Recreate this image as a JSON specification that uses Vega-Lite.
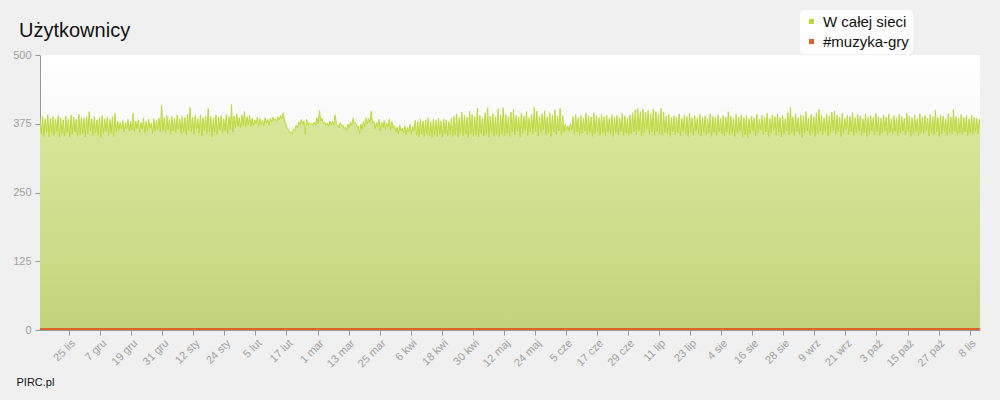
{
"$schema":"https://vega.github.io/schema/vega-lite/v6.json",
"width":940,"height":275,
"autosize":{"type":"none"},
"padding":{"left":40,"top":55,"right":20,"bottom":70},
"background":"#f0f0f0",
"title":{"text":"Użytkownicy","anchor":"start","frame":"group","dx":-21,"offset":-47,"baseline":"alphabetic","fontSize":20,"fontWeight":"normal","color":"#111","font":"Liberation Sans"},
"datasets":{
"all":[
{"t":"2012-11-13T18:00","v":386},
{"t":"2012-11-14T06:00","v":356},{"t":"2012-11-14T18:00","v":389},
{"t":"2012-11-15T06:00","v":352},{"t":"2012-11-15T18:00","v":384},
{"t":"2012-11-16T06:00","v":360},{"t":"2012-11-16T18:00","v":391},
{"t":"2012-11-17T06:00","v":351},{"t":"2012-11-17T18:00","v":385},
{"t":"2012-11-18T06:00","v":358},{"t":"2012-11-18T18:00","v":388},
{"t":"2012-11-19T06:00","v":354},{"t":"2012-11-19T18:00","v":383},
{"t":"2012-11-20T06:00","v":361},{"t":"2012-11-20T18:00","v":390},
{"t":"2012-11-21T06:00","v":350},{"t":"2012-11-21T18:00","v":386},
{"t":"2012-11-22T06:00","v":357},{"t":"2012-11-22T18:00","v":382},
{"t":"2012-11-23T06:00","v":353},{"t":"2012-11-23T18:00","v":389},
{"t":"2012-11-24T06:00","v":359},{"t":"2012-11-24T18:00","v":384},
{"t":"2012-11-25T06:00","v":351},{"t":"2012-11-25T18:00","v":391},
{"t":"2012-11-26T06:00","v":356},{"t":"2012-11-26T18:00","v":387},
{"t":"2012-11-27T06:00","v":360},{"t":"2012-11-27T18:00","v":383},
{"t":"2012-11-28T06:00","v":352},{"t":"2012-11-28T18:00","v":392},
{"t":"2012-11-29T06:00","v":355},{"t":"2012-11-29T18:00","v":386},
{"t":"2012-11-30T06:00","v":358},{"t":"2012-11-30T18:00","v":385},
{"t":"2012-12-01T06:00","v":351},{"t":"2012-12-01T18:00","v":389},
{"t":"2012-12-02T06:00","v":357},{"t":"2012-12-02T18:00","v":397},
{"t":"2012-12-03T06:00","v":362},{"t":"2012-12-03T18:00","v":384},
{"t":"2012-12-04T06:00","v":353},{"t":"2012-12-04T18:00","v":388},
{"t":"2012-12-05T06:00","v":359},{"t":"2012-12-05T18:00","v":382},
{"t":"2012-12-06T06:00","v":355},{"t":"2012-12-06T18:00","v":386},
{"t":"2012-12-07T06:00","v":350},{"t":"2012-12-07T18:00","v":390},
{"t":"2012-12-08T06:00","v":357},{"t":"2012-12-08T18:00","v":384},
{"t":"2012-12-09T06:00","v":361},{"t":"2012-12-09T18:00","v":387},
{"t":"2012-12-10T06:00","v":354},{"t":"2012-12-10T18:00","v":383},
{"t":"2012-12-11T06:00","v":358},{"t":"2012-12-11T18:00","v":388},
{"t":"2012-12-12T06:00","v":352},{"t":"2012-12-12T18:00","v":394},
{"t":"2012-12-13T06:00","v":360},{"t":"2012-12-13T18:00","v":380},
{"t":"2012-12-14T06:00","v":363},{"t":"2012-12-14T18:00","v":378},
{"t":"2012-12-15T06:00","v":365},{"t":"2012-12-15T18:00","v":381},
{"t":"2012-12-16T06:00","v":360},{"t":"2012-12-16T18:00","v":377},
{"t":"2012-12-17T06:00","v":366},{"t":"2012-12-17T18:00","v":383},
{"t":"2012-12-18T06:00","v":362},{"t":"2012-12-18T18:00","v":379},
{"t":"2012-12-19T06:00","v":364},{"t":"2012-12-19T18:00","v":394},
{"t":"2012-12-20T06:00","v":361},{"t":"2012-12-20T18:00","v":380},
{"t":"2012-12-21T06:00","v":366},{"t":"2012-12-21T18:00","v":382},
{"t":"2012-12-22T06:00","v":360},{"t":"2012-12-22T18:00","v":377},
{"t":"2012-12-23T06:00","v":365},{"t":"2012-12-23T18:00","v":385},
{"t":"2012-12-24T06:00","v":359},{"t":"2012-12-24T18:00","v":379},
{"t":"2012-12-25T06:00","v":363},{"t":"2012-12-25T18:00","v":383},
{"t":"2012-12-26T06:00","v":367},{"t":"2012-12-26T18:00","v":376},
{"t":"2012-12-27T06:00","v":358},{"t":"2012-12-27T18:00","v":384},
{"t":"2012-12-28T06:00","v":362},{"t":"2012-12-28T18:00","v":381},
{"t":"2012-12-29T06:00","v":365},{"t":"2012-12-29T18:00","v":385},
{"t":"2012-12-30T06:00","v":360},{"t":"2012-12-30T18:00","v":409},
{"t":"2012-12-31T06:00","v":363},{"t":"2012-12-31T18:00","v":386},
{"t":"2013-01-01T06:00","v":358},{"t":"2013-01-01T18:00","v":390},
{"t":"2013-01-02T06:00","v":364},{"t":"2013-01-02T18:00","v":383},
{"t":"2013-01-03T06:00","v":356},{"t":"2013-01-03T18:00","v":388},
{"t":"2013-01-04T06:00","v":362},{"t":"2013-01-04T18:00","v":385},
{"t":"2013-01-05T06:00","v":359},{"t":"2013-01-05T18:00","v":391},
{"t":"2013-01-06T06:00","v":366},{"t":"2013-01-06T18:00","v":384},
{"t":"2013-01-07T06:00","v":357},{"t":"2013-01-07T18:00","v":389},
{"t":"2013-01-08T06:00","v":361},{"t":"2013-01-08T18:00","v":386},
{"t":"2013-01-09T06:00","v":355},{"t":"2013-01-09T18:00","v":392},
{"t":"2013-01-10T06:00","v":363},{"t":"2013-01-10T18:00","v":405},
{"t":"2013-01-11T06:00","v":360},{"t":"2013-01-11T18:00","v":387},
{"t":"2013-01-12T06:00","v":356},{"t":"2013-01-12T18:00","v":390},
{"t":"2013-01-13T06:00","v":364},{"t":"2013-01-13T18:00","v":384},
{"t":"2013-01-14T06:00","v":358},{"t":"2013-01-14T18:00","v":391},
{"t":"2013-01-15T06:00","v":353},{"t":"2013-01-15T18:00","v":386},
{"t":"2013-01-16T06:00","v":362},{"t":"2013-01-16T18:00","v":389},
{"t":"2013-01-17T06:00","v":357},{"t":"2013-01-17T18:00","v":403},
{"t":"2013-01-18T06:00","v":361},{"t":"2013-01-18T18:00","v":388},
{"t":"2013-01-19T06:00","v":351},{"t":"2013-01-19T18:00","v":385},
{"t":"2013-01-20T06:00","v":360},{"t":"2013-01-20T18:00","v":391},
{"t":"2013-01-21T06:00","v":355},{"t":"2013-01-21T18:00","v":387},
{"t":"2013-01-22T06:00","v":364},{"t":"2013-01-22T18:00","v":390},
{"t":"2013-01-23T06:00","v":358},{"t":"2013-01-23T18:00","v":384},
{"t":"2013-01-24T06:00","v":362},{"t":"2013-01-24T18:00","v":392},
{"t":"2013-01-25T06:00","v":356},{"t":"2013-01-25T18:00","v":388},
{"t":"2013-01-26T06:00","v":365},{"t":"2013-01-26T18:00","v":410},
{"t":"2013-01-27T06:00","v":360},{"t":"2013-01-27T18:00","v":389},
{"t":"2013-01-28T06:00","v":368},{"t":"2013-01-28T18:00","v":393},
{"t":"2013-01-29T06:00","v":371},{"t":"2013-01-29T18:00","v":386},
{"t":"2013-01-30T06:00","v":367},{"t":"2013-01-30T18:00","v":391},
{"t":"2013-01-31T06:00","v":372},{"t":"2013-01-31T18:00","v":397},
{"t":"2013-02-01T06:00","v":369},{"t":"2013-02-01T18:00","v":388},
{"t":"2013-02-02T06:00","v":373},{"t":"2013-02-02T18:00","v":390},
{"t":"2013-02-03T06:00","v":370},{"t":"2013-02-03T18:00","v":385},
{"t":"2013-02-04T06:00","v":372},{"t":"2013-02-04T18:00","v":382},
{"t":"2013-02-05T06:00","v":375},{"t":"2013-02-05T18:00","v":387},
{"t":"2013-02-06T06:00","v":370},{"t":"2013-02-06T18:00","v":384},
{"t":"2013-02-07T06:00","v":374},{"t":"2013-02-07T18:00","v":381},
{"t":"2013-02-08T06:00","v":371},{"t":"2013-02-08T18:00","v":386},
{"t":"2013-02-09T06:00","v":376},{"t":"2013-02-09T18:00","v":383},
{"t":"2013-02-10T06:00","v":372},{"t":"2013-02-10T18:00","v":385},
{"t":"2013-02-11T06:00","v":378},{"t":"2013-02-11T18:00","v":387},
{"t":"2013-02-12T06:00","v":381},{"t":"2013-02-12T18:00","v":384},
{"t":"2013-02-13T06:00","v":379},{"t":"2013-02-13T18:00","v":388},
{"t":"2013-02-14T06:00","v":382},{"t":"2013-02-14T18:00","v":390},
{"t":"2013-02-15T06:00","v":384},{"t":"2013-02-15T18:00","v":395},
{"t":"2013-02-16T06:00","v":380},{"t":"2013-02-16T18:00","v":375},
{"t":"2013-02-17T06:00","v":368},{"t":"2013-02-17T18:00","v":365},
{"t":"2013-02-18T06:00","v":359},{"t":"2013-02-18T18:00","v":360},
{"t":"2013-02-19T06:00","v":356},{"t":"2013-02-19T18:00","v":366},
{"t":"2013-02-20T06:00","v":362},{"t":"2013-02-20T18:00","v":372},
{"t":"2013-02-21T06:00","v":368},{"t":"2013-02-21T18:00","v":378},
{"t":"2013-02-22T06:00","v":373},{"t":"2013-02-22T18:00","v":383},
{"t":"2013-02-23T06:00","v":374},{"t":"2013-02-23T18:00","v":380},
{"t":"2013-02-24T06:00","v":356},{"t":"2013-02-24T18:00","v":383},
{"t":"2013-02-25T06:00","v":372},{"t":"2013-02-25T18:00","v":377},
{"t":"2013-02-26T06:00","v":374},{"t":"2013-02-26T18:00","v":376},
{"t":"2013-02-27T06:00","v":373},{"t":"2013-02-27T18:00","v":378},
{"t":"2013-02-28T06:00","v":372},{"t":"2013-02-28T18:00","v":386},
{"t":"2013-03-01T06:00","v":375},{"t":"2013-03-01T18:00","v":399},
{"t":"2013-03-02T06:00","v":380},{"t":"2013-03-02T18:00","v":385},
{"t":"2013-03-03T06:00","v":376},{"t":"2013-03-03T18:00","v":378},
{"t":"2013-03-04T06:00","v":372},{"t":"2013-03-04T18:00","v":376},
{"t":"2013-03-05T06:00","v":370},{"t":"2013-03-05T18:00","v":380},
{"t":"2013-03-06T06:00","v":374},{"t":"2013-03-06T18:00","v":379},
{"t":"2013-03-07T06:00","v":372},{"t":"2013-03-07T18:00","v":391},
{"t":"2013-03-08T06:00","v":376},{"t":"2013-03-08T18:00","v":374},
{"t":"2013-03-09T06:00","v":368},{"t":"2013-03-09T18:00","v":377},
{"t":"2013-03-10T06:00","v":371},{"t":"2013-03-10T18:00","v":373},
{"t":"2013-03-11T06:00","v":366},{"t":"2013-03-11T18:00","v":369},
{"t":"2013-03-12T06:00","v":363},{"t":"2013-03-12T18:00","v":375},
{"t":"2013-03-13T06:00","v":368},{"t":"2013-03-13T18:00","v":378},
{"t":"2013-03-14T06:00","v":372},{"t":"2013-03-14T18:00","v":385},
{"t":"2013-03-15T06:00","v":375},{"t":"2013-03-15T18:00","v":377},
{"t":"2013-03-16T06:00","v":369},{"t":"2013-03-16T18:00","v":371},
{"t":"2013-03-17T06:00","v":357},{"t":"2013-03-17T18:00","v":374},
{"t":"2013-03-18T06:00","v":365},{"t":"2013-03-18T18:00","v":380},
{"t":"2013-03-19T06:00","v":369},{"t":"2013-03-19T18:00","v":386},
{"t":"2013-03-20T06:00","v":375},{"t":"2013-03-20T18:00","v":384},
{"t":"2013-03-21T06:00","v":378},{"t":"2013-03-21T18:00","v":398},
{"t":"2013-03-22T06:00","v":376},{"t":"2013-03-22T18:00","v":380},
{"t":"2013-03-23T06:00","v":366},{"t":"2013-03-23T18:00","v":377},
{"t":"2013-03-24T06:00","v":369},{"t":"2013-03-24T18:00","v":383},
{"t":"2013-03-25T06:00","v":362},{"t":"2013-03-25T18:00","v":378},
{"t":"2013-03-26T06:00","v":368},{"t":"2013-03-26T18:00","v":381},
{"t":"2013-03-27T06:00","v":365},{"t":"2013-03-27T18:00","v":376},
{"t":"2013-03-28T06:00","v":370},{"t":"2013-03-28T18:00","v":384},
{"t":"2013-03-29T06:00","v":363},{"t":"2013-03-29T18:00","v":379},
{"t":"2013-03-30T06:00","v":367},{"t":"2013-03-30T18:00","v":372},
{"t":"2013-03-31T06:00","v":360},{"t":"2013-03-31T18:00","v":369},
{"t":"2013-04-01T06:00","v":356},{"t":"2013-04-01T18:00","v":373},
{"t":"2013-04-02T06:00","v":362},{"t":"2013-04-02T18:00","v":367},
{"t":"2013-04-03T06:00","v":358},{"t":"2013-04-03T18:00","v":371},
{"t":"2013-04-04T06:00","v":355},{"t":"2013-04-04T18:00","v":368},
{"t":"2013-04-05T06:00","v":361},{"t":"2013-04-05T18:00","v":374},
{"t":"2013-04-06T06:00","v":357},{"t":"2013-04-06T18:00","v":370},
{"t":"2013-04-07T06:00","v":363},{"t":"2013-04-07T18:00","v":381},
{"t":"2013-04-08T06:00","v":354},{"t":"2013-04-08T18:00","v":379},
{"t":"2013-04-09T06:00","v":351},{"t":"2013-04-09T18:00","v":384},
{"t":"2013-04-10T06:00","v":356},{"t":"2013-04-10T18:00","v":380},
{"t":"2013-04-11T06:00","v":352},{"t":"2013-04-11T18:00","v":382},
{"t":"2013-04-12T06:00","v":357},{"t":"2013-04-12T18:00","v":386},
{"t":"2013-04-13T06:00","v":353},{"t":"2013-04-13T18:00","v":379},
{"t":"2013-04-14T06:00","v":350},{"t":"2013-04-14T18:00","v":383},
{"t":"2013-04-15T06:00","v":355},{"t":"2013-04-15T18:00","v":381},
{"t":"2013-04-16T06:00","v":352},{"t":"2013-04-16T18:00","v":385},
{"t":"2013-04-17T06:00","v":356},{"t":"2013-04-17T18:00","v":380},
{"t":"2013-04-18T06:00","v":351},{"t":"2013-04-18T18:00","v":384},
{"t":"2013-04-19T06:00","v":357},{"t":"2013-04-19T18:00","v":382},
{"t":"2013-04-20T06:00","v":353},{"t":"2013-04-20T18:00","v":379},
{"t":"2013-04-21T06:00","v":356},{"t":"2013-04-21T18:00","v":385},
{"t":"2013-04-22T06:00","v":352},{"t":"2013-04-22T18:00","v":389},
{"t":"2013-04-23T06:00","v":355},{"t":"2013-04-23T18:00","v":393},
{"t":"2013-04-24T06:00","v":351},{"t":"2013-04-24T18:00","v":386},
{"t":"2013-04-25T06:00","v":358},{"t":"2013-04-25T18:00","v":396},
{"t":"2013-04-26T06:00","v":353},{"t":"2013-04-26T18:00","v":390},
{"t":"2013-04-27T06:00","v":356},{"t":"2013-04-27T18:00","v":387},
{"t":"2013-04-28T06:00","v":350},{"t":"2013-04-28T18:00","v":398},
{"t":"2013-04-29T06:00","v":357},{"t":"2013-04-29T18:00","v":392},
{"t":"2013-04-30T06:00","v":352},{"t":"2013-04-30T18:00","v":388},
{"t":"2013-05-01T06:00","v":355},{"t":"2013-05-01T18:00","v":403},
{"t":"2013-05-02T06:00","v":351},{"t":"2013-05-02T18:00","v":390},
{"t":"2013-05-03T06:00","v":357},{"t":"2013-05-03T18:00","v":386},
{"t":"2013-05-04T06:00","v":353},{"t":"2013-05-04T18:00","v":395},
{"t":"2013-05-05T06:00","v":356},{"t":"2013-05-05T18:00","v":404},
{"t":"2013-05-06T06:00","v":350},{"t":"2013-05-06T18:00","v":389},
{"t":"2013-05-07T06:00","v":358},{"t":"2013-05-07T18:00","v":393},
{"t":"2013-05-08T06:00","v":352},{"t":"2013-05-08T18:00","v":387},
{"t":"2013-05-09T06:00","v":356},{"t":"2013-05-09T18:00","v":402},
{"t":"2013-05-10T06:00","v":351},{"t":"2013-05-10T18:00","v":391},
{"t":"2013-05-11T06:00","v":357},{"t":"2013-05-11T18:00","v":404},
{"t":"2013-05-12T06:00","v":353},{"t":"2013-05-12T18:00","v":392},
{"t":"2013-05-13T06:00","v":358},{"t":"2013-05-13T18:00","v":388},
{"t":"2013-05-14T06:00","v":352},{"t":"2013-05-14T18:00","v":396},
{"t":"2013-05-15T06:00","v":360},{"t":"2013-05-15T18:00","v":401},
{"t":"2013-05-16T06:00","v":355},{"t":"2013-05-16T18:00","v":390},
{"t":"2013-05-17T06:00","v":362},{"t":"2013-05-17T18:00","v":387},
{"t":"2013-05-18T06:00","v":351},{"t":"2013-05-18T18:00","v":394},
{"t":"2013-05-19T06:00","v":357},{"t":"2013-05-19T18:00","v":389},
{"t":"2013-05-20T06:00","v":363},{"t":"2013-05-20T18:00","v":397},
{"t":"2013-05-21T06:00","v":354},{"t":"2013-05-21T18:00","v":386},
{"t":"2013-05-22T06:00","v":360},{"t":"2013-05-22T18:00","v":392},
{"t":"2013-05-23T06:00","v":356},{"t":"2013-05-23T18:00","v":405},
{"t":"2013-05-24T06:00","v":361},{"t":"2013-05-24T18:00","v":398},
{"t":"2013-05-25T06:00","v":353},{"t":"2013-05-25T18:00","v":388},
{"t":"2013-05-26T06:00","v":359},{"t":"2013-05-26T18:00","v":393},
{"t":"2013-05-27T06:00","v":364},{"t":"2013-05-27T18:00","v":399},
{"t":"2013-05-28T06:00","v":355},{"t":"2013-05-28T18:00","v":387},
{"t":"2013-05-29T06:00","v":358},{"t":"2013-05-29T18:00","v":395},
{"t":"2013-05-30T06:00","v":352},{"t":"2013-05-30T18:00","v":391},
{"t":"2013-05-31T06:00","v":360},{"t":"2013-05-31T18:00","v":400},
{"t":"2013-06-01T06:00","v":356},{"t":"2013-06-01T18:00","v":389},
{"t":"2013-06-02T06:00","v":362},{"t":"2013-06-02T18:00","v":403},
{"t":"2013-06-03T06:00","v":354},{"t":"2013-06-03T18:00","v":390},
{"t":"2013-06-04T06:00","v":359},{"t":"2013-06-04T18:00","v":374},
{"t":"2013-06-05T06:00","v":363},{"t":"2013-06-05T18:00","v":371},
{"t":"2013-06-06T06:00","v":361},{"t":"2013-06-06T18:00","v":375},
{"t":"2013-06-07T06:00","v":364},{"t":"2013-06-07T18:00","v":388},
{"t":"2013-06-08T06:00","v":356},{"t":"2013-06-08T18:00","v":392},
{"t":"2013-06-09T06:00","v":360},{"t":"2013-06-09T18:00","v":386},
{"t":"2013-06-10T06:00","v":353},{"t":"2013-06-10T18:00","v":390},
{"t":"2013-06-11T06:00","v":358},{"t":"2013-06-11T18:00","v":385},
{"t":"2013-06-12T06:00","v":362},{"t":"2013-06-12T18:00","v":394},
{"t":"2013-06-13T06:00","v":355},{"t":"2013-06-13T18:00","v":389},
{"t":"2013-06-14T06:00","v":359},{"t":"2013-06-14T18:00","v":387},
{"t":"2013-06-15T06:00","v":352},{"t":"2013-06-15T18:00","v":395},
{"t":"2013-06-16T06:00","v":357},{"t":"2013-06-16T18:00","v":390},
{"t":"2013-06-17T06:00","v":361},{"t":"2013-06-17T18:00","v":386},
{"t":"2013-06-18T06:00","v":354},{"t":"2013-06-18T18:00","v":393},
{"t":"2013-06-19T06:00","v":358},{"t":"2013-06-19T18:00","v":388},
{"t":"2013-06-20T06:00","v":353},{"t":"2013-06-20T18:00","v":391},
{"t":"2013-06-21T06:00","v":360},{"t":"2013-06-21T18:00","v":385},
{"t":"2013-06-22T06:00","v":356},{"t":"2013-06-22T18:00","v":392},
{"t":"2013-06-23T06:00","v":352},{"t":"2013-06-23T18:00","v":387},
{"t":"2013-06-24T06:00","v":359},{"t":"2013-06-24T18:00","v":390},
{"t":"2013-06-25T06:00","v":355},{"t":"2013-06-25T18:00","v":386},
{"t":"2013-06-26T06:00","v":361},{"t":"2013-06-26T18:00","v":394},
{"t":"2013-06-27T06:00","v":354},{"t":"2013-06-27T18:00","v":389},
{"t":"2013-06-28T06:00","v":358},{"t":"2013-06-28T18:00","v":385},
{"t":"2013-06-29T06:00","v":353},{"t":"2013-06-29T18:00","v":391},
{"t":"2013-06-30T06:00","v":357},{"t":"2013-06-30T18:00","v":395},
{"t":"2013-07-01T06:00","v":360},{"t":"2013-07-01T18:00","v":400},
{"t":"2013-07-02T06:00","v":355},{"t":"2013-07-02T18:00","v":403},
{"t":"2013-07-03T06:00","v":362},{"t":"2013-07-03T18:00","v":397},
{"t":"2013-07-04T06:00","v":353},{"t":"2013-07-04T18:00","v":401},
{"t":"2013-07-05T06:00","v":358},{"t":"2013-07-05T18:00","v":396},
{"t":"2013-07-06T06:00","v":364},{"t":"2013-07-06T18:00","v":399},
{"t":"2013-07-07T06:00","v":356},{"t":"2013-07-07T18:00","v":394},
{"t":"2013-07-08T06:00","v":360},{"t":"2013-07-08T18:00","v":402},
{"t":"2013-07-09T06:00","v":354},{"t":"2013-07-09T18:00","v":397},
{"t":"2013-07-10T06:00","v":361},{"t":"2013-07-10T18:00","v":393},
{"t":"2013-07-11T06:00","v":357},{"t":"2013-07-11T18:00","v":403},
{"t":"2013-07-12T06:00","v":355},{"t":"2013-07-12T18:00","v":396},
{"t":"2013-07-13T06:00","v":359},{"t":"2013-07-13T18:00","v":389},
{"t":"2013-07-14T06:00","v":356},{"t":"2013-07-14T18:00","v":392},
{"t":"2013-07-15T06:00","v":352},{"t":"2013-07-15T18:00","v":386},
{"t":"2013-07-16T06:00","v":360},{"t":"2013-07-16T18:00","v":390},
{"t":"2013-07-17T06:00","v":355},{"t":"2013-07-17T18:00","v":387},
{"t":"2013-07-18T06:00","v":358},{"t":"2013-07-18T18:00","v":393},
{"t":"2013-07-19T06:00","v":353},{"t":"2013-07-19T18:00","v":385},
{"t":"2013-07-20T06:00","v":361},{"t":"2013-07-20T18:00","v":391},
{"t":"2013-07-21T06:00","v":356},{"t":"2013-07-21T18:00","v":388},
{"t":"2013-07-22T06:00","v":352},{"t":"2013-07-22T18:00","v":394},
{"t":"2013-07-23T06:00","v":359},{"t":"2013-07-23T18:00","v":386},
{"t":"2013-07-24T06:00","v":354},{"t":"2013-07-24T18:00","v":390},
{"t":"2013-07-25T06:00","v":361},{"t":"2013-07-25T18:00","v":385},
{"t":"2013-07-26T06:00","v":357},{"t":"2013-07-26T18:00","v":392},
{"t":"2013-07-27T06:00","v":353},{"t":"2013-07-27T18:00","v":387},
{"t":"2013-07-28T06:00","v":360},{"t":"2013-07-28T18:00","v":389},
{"t":"2013-07-29T06:00","v":355},{"t":"2013-07-29T18:00","v":384},
{"t":"2013-07-30T06:00","v":358},{"t":"2013-07-30T18:00","v":393},
{"t":"2013-07-31T06:00","v":352},{"t":"2013-07-31T18:00","v":388},
{"t":"2013-08-01T06:00","v":359},{"t":"2013-08-01T18:00","v":386},
{"t":"2013-08-02T06:00","v":354},{"t":"2013-08-02T18:00","v":391},
{"t":"2013-08-03T06:00","v":361},{"t":"2013-08-03T18:00","v":385},
{"t":"2013-08-04T06:00","v":356},{"t":"2013-08-04T18:00","v":390},
{"t":"2013-08-05T06:00","v":353},{"t":"2013-08-05T18:00","v":387},
{"t":"2013-08-06T06:00","v":360},{"t":"2013-08-06T18:00","v":397},
{"t":"2013-08-07T06:00","v":355},{"t":"2013-08-07T18:00","v":389},
{"t":"2013-08-08T06:00","v":358},{"t":"2013-08-08T18:00","v":385},
{"t":"2013-08-09T06:00","v":352},{"t":"2013-08-09T18:00","v":392},
{"t":"2013-08-10T06:00","v":357},{"t":"2013-08-10T18:00","v":387},
{"t":"2013-08-11T06:00","v":361},{"t":"2013-08-11T18:00","v":391},
{"t":"2013-08-12T06:00","v":350},{"t":"2013-08-12T18:00","v":386},
{"t":"2013-08-13T06:00","v":355},{"t":"2013-08-13T18:00","v":390},
{"t":"2013-08-14T06:00","v":349},{"t":"2013-08-14T18:00","v":384},
{"t":"2013-08-15T06:00","v":357},{"t":"2013-08-15T18:00","v":389},
{"t":"2013-08-16T06:00","v":362},{"t":"2013-08-16T18:00","v":386},
{"t":"2013-08-17T06:00","v":353},{"t":"2013-08-17T18:00","v":392},
{"t":"2013-08-18T06:00","v":359},{"t":"2013-08-18T18:00","v":383},
{"t":"2013-08-19T06:00","v":364},{"t":"2013-08-19T18:00","v":390},
{"t":"2013-08-20T06:00","v":355},{"t":"2013-08-20T18:00","v":387},
{"t":"2013-08-21T06:00","v":360},{"t":"2013-08-21T18:00","v":394},
{"t":"2013-08-22T06:00","v":352},{"t":"2013-08-22T18:00","v":385},
{"t":"2013-08-23T06:00","v":358},{"t":"2013-08-23T18:00","v":391},
{"t":"2013-08-24T06:00","v":363},{"t":"2013-08-24T18:00","v":388},
{"t":"2013-08-25T06:00","v":354},{"t":"2013-08-25T18:00","v":393},
{"t":"2013-08-26T06:00","v":360},{"t":"2013-08-26T18:00","v":386},
{"t":"2013-08-27T06:00","v":351},{"t":"2013-08-27T18:00","v":390},
{"t":"2013-08-28T06:00","v":357},{"t":"2013-08-28T18:00","v":384},
{"t":"2013-08-29T06:00","v":362},{"t":"2013-08-29T18:00","v":395},
{"t":"2013-08-30T06:00","v":355},{"t":"2013-08-30T18:00","v":405},
{"t":"2013-08-31T06:00","v":359},{"t":"2013-08-31T18:00","v":388},
{"t":"2013-09-01T06:00","v":353},{"t":"2013-09-01T18:00","v":393},
{"t":"2013-09-02T06:00","v":361},{"t":"2013-09-02T18:00","v":386},
{"t":"2013-09-03T06:00","v":356},{"t":"2013-09-03T18:00","v":391},
{"t":"2013-09-04T06:00","v":350},{"t":"2013-09-04T18:00","v":389},
{"t":"2013-09-05T06:00","v":358},{"t":"2013-09-05T18:00","v":397},
{"t":"2013-09-06T06:00","v":362},{"t":"2013-09-06T18:00","v":385},
{"t":"2013-09-07T06:00","v":354},{"t":"2013-09-07T18:00","v":392},
{"t":"2013-09-08T06:00","v":359},{"t":"2013-09-08T18:00","v":388},
{"t":"2013-09-09T06:00","v":352},{"t":"2013-09-09T18:00","v":395},
{"t":"2013-09-10T06:00","v":357},{"t":"2013-09-10T18:00","v":401},
{"t":"2013-09-11T06:00","v":361},{"t":"2013-09-11T18:00","v":390},
{"t":"2013-09-12T06:00","v":355},{"t":"2013-09-12T18:00","v":386},
{"t":"2013-09-13T06:00","v":360},{"t":"2013-09-13T18:00","v":393},
{"t":"2013-09-14T06:00","v":353},{"t":"2013-09-14T18:00","v":389},
{"t":"2013-09-15T06:00","v":358},{"t":"2013-09-15T18:00","v":396},
{"t":"2013-09-16T06:00","v":363},{"t":"2013-09-16T18:00","v":398},
{"t":"2013-09-17T06:00","v":356},{"t":"2013-09-17T18:00","v":391},
{"t":"2013-09-18T06:00","v":360},{"t":"2013-09-18T18:00","v":387},
{"t":"2013-09-19T06:00","v":352},{"t":"2013-09-19T18:00","v":394},
{"t":"2013-09-20T06:00","v":358},{"t":"2013-09-20T18:00","v":385},
{"t":"2013-09-21T06:00","v":364},{"t":"2013-09-21T18:00","v":390},
{"t":"2013-09-22T06:00","v":355},{"t":"2013-09-22T18:00","v":388},
{"t":"2013-09-23T06:00","v":361},{"t":"2013-09-23T18:00","v":395},
{"t":"2013-09-24T06:00","v":353},{"t":"2013-09-24T18:00","v":386},
{"t":"2013-09-25T06:00","v":358},{"t":"2013-09-25T18:00","v":392},
{"t":"2013-09-26T06:00","v":362},{"t":"2013-09-26T18:00","v":389},
{"t":"2013-09-27T06:00","v":354},{"t":"2013-09-27T18:00","v":384},
{"t":"2013-09-28T06:00","v":359},{"t":"2013-09-28T18:00","v":393},
{"t":"2013-09-29T06:00","v":352},{"t":"2013-09-29T18:00","v":387},
{"t":"2013-09-30T06:00","v":357},{"t":"2013-09-30T18:00","v":390},
{"t":"2013-10-01T06:00","v":363},{"t":"2013-10-01T18:00","v":386},
{"t":"2013-10-02T06:00","v":355},{"t":"2013-10-02T18:00","v":394},
{"t":"2013-10-03T06:00","v":360},{"t":"2013-10-03T18:00","v":388},
{"t":"2013-10-04T06:00","v":353},{"t":"2013-10-04T18:00","v":385},
{"t":"2013-10-05T06:00","v":358},{"t":"2013-10-05T18:00","v":391},
{"t":"2013-10-06T06:00","v":362},{"t":"2013-10-06T18:00","v":387},
{"t":"2013-10-07T06:00","v":354},{"t":"2013-10-07T18:00","v":393},
{"t":"2013-10-08T06:00","v":359},{"t":"2013-10-08T18:00","v":384},
{"t":"2013-10-09T06:00","v":356},{"t":"2013-10-09T18:00","v":390},
{"t":"2013-10-10T06:00","v":361},{"t":"2013-10-10T18:00","v":386},
{"t":"2013-10-11T06:00","v":353},{"t":"2013-10-11T18:00","v":392},
{"t":"2013-10-12T06:00","v":358},{"t":"2013-10-12T18:00","v":388},
{"t":"2013-10-13T06:00","v":362},{"t":"2013-10-13T18:00","v":385},
{"t":"2013-10-14T06:00","v":355},{"t":"2013-10-14T18:00","v":394},
{"t":"2013-10-15T06:00","v":360},{"t":"2013-10-15T18:00","v":389},
{"t":"2013-10-16T06:00","v":352},{"t":"2013-10-16T18:00","v":386},
{"t":"2013-10-17T06:00","v":357},{"t":"2013-10-17T18:00","v":391},
{"t":"2013-10-18T06:00","v":361},{"t":"2013-10-18T18:00","v":384},
{"t":"2013-10-19T06:00","v":354},{"t":"2013-10-19T18:00","v":393},
{"t":"2013-10-20T06:00","v":359},{"t":"2013-10-20T18:00","v":387},
{"t":"2013-10-21T06:00","v":356},{"t":"2013-10-21T18:00","v":390},
{"t":"2013-10-22T06:00","v":362},{"t":"2013-10-22T18:00","v":385},
{"t":"2013-10-23T06:00","v":353},{"t":"2013-10-23T18:00","v":392},
{"t":"2013-10-24T06:00","v":358},{"t":"2013-10-24T18:00","v":388},
{"t":"2013-10-25T06:00","v":355},{"t":"2013-10-25T18:00","v":400},
{"t":"2013-10-26T06:00","v":360},{"t":"2013-10-26T18:00","v":386},
{"t":"2013-10-27T06:00","v":352},{"t":"2013-10-27T18:00","v":391},
{"t":"2013-10-28T06:00","v":357},{"t":"2013-10-28T18:00","v":389},
{"t":"2013-10-29T06:00","v":361},{"t":"2013-10-29T18:00","v":384},
{"t":"2013-10-30T06:00","v":354},{"t":"2013-10-30T18:00","v":393},
{"t":"2013-10-31T06:00","v":359},{"t":"2013-10-31T18:00","v":387},
{"t":"2013-11-01T06:00","v":356},{"t":"2013-11-01T18:00","v":401},
{"t":"2013-11-02T06:00","v":362},{"t":"2013-11-02T18:00","v":388},
{"t":"2013-11-03T06:00","v":353},{"t":"2013-11-03T18:00","v":385},
{"t":"2013-11-04T06:00","v":358},{"t":"2013-11-04T18:00","v":392},
{"t":"2013-11-05T06:00","v":355},{"t":"2013-11-05T18:00","v":386},
{"t":"2013-11-06T06:00","v":360},{"t":"2013-11-06T18:00","v":390},
{"t":"2013-11-07T06:00","v":353},{"t":"2013-11-07T18:00","v":384},
{"t":"2013-11-08T06:00","v":358},{"t":"2013-11-08T18:00","v":391},
{"t":"2013-11-09T06:00","v":356},{"t":"2013-11-09T18:00","v":387},
{"t":"2013-11-10T06:00","v":361},{"t":"2013-11-10T18:00","v":385},
{"t":"2013-11-11T06:00","v":357},{"t":"2013-11-11T18:00","v":383},
{"t":"2013-11-12T00:00","v":370}
],
"mg":[
{"t":"2012-11-13T18:00","v":0},{"t":"2012-12-01T00:00","v":0},{"t":"2013-01-01T00:00","v":0},{"t":"2013-02-01T00:00","v":0},{"t":"2013-03-01T00:00","v":0},{"t":"2013-04-01T00:00","v":0},{"t":"2013-05-01T00:00","v":0},{"t":"2013-06-01T00:00","v":0},{"t":"2013-07-01T00:00","v":0},{"t":"2013-08-01T00:00","v":0},{"t":"2013-09-01T00:00","v":0},{"t":"2013-10-01T00:00","v":0},{"t":"2013-11-01T00:00","v":0},{"t":"2013-11-12T00:00","v":0}
]
},
"layer":[
{"data":{"name":"all"},
"mark":{"type":"area","clip":true,"fillOpacity":1,"fill":{"gradient":"linear","x1":0,"y1":0,"x2":0,"y2":1,"stops":[{"offset":0,"color":"#d8e99c"},{"offset":1,"color":"#c3d37b"}]},"line":{"strokeWidth":1}},
"encoding":{
"x":{"field":"t","type":"temporal","scale":{"domain":[{"year":2012,"month":11,"date":13,"hours":18},{"year":2013,"month":11,"date":12,"hours":0}]},
"axis":{"values":[{"year":2012,"month":11,"date":25},{"year":2012,"month":12,"date":7},{"year":2012,"month":12,"date":19},{"year":2012,"month":12,"date":31},{"year":2013,"month":1,"date":12},{"year":2013,"month":1,"date":24},{"year":2013,"month":2,"date":5},{"year":2013,"month":2,"date":17},{"year":2013,"month":3,"date":1},{"year":2013,"month":3,"date":13},{"year":2013,"month":3,"date":25},{"year":2013,"month":4,"date":6},{"year":2013,"month":4,"date":18},{"year":2013,"month":4,"date":30},{"year":2013,"month":5,"date":12},{"year":2013,"month":5,"date":24},{"year":2013,"month":6,"date":5},{"year":2013,"month":6,"date":17},{"year":2013,"month":6,"date":29},{"year":2013,"month":7,"date":11},{"year":2013,"month":7,"date":23},{"year":2013,"month":8,"date":4},{"year":2013,"month":8,"date":16},{"year":2013,"month":8,"date":28},{"year":2013,"month":9,"date":9},{"year":2013,"month":9,"date":21},{"year":2013,"month":10,"date":3},{"year":2013,"month":10,"date":15},{"year":2013,"month":10,"date":27},{"year":2013,"month":11,"date":8}],
"tickCount":100,
"labelExpr":"date(datum.value) + ' ' + ['sty','lut','mar','kwi','maj','cze','lip','sie','wrz','paź','lis','gru'][month(datum.value)]",
"labelAngle":-45,"labelAlign":"right","labelBaseline":"top","labelPadding":2,"labelFontSize":11,"labelColor":"#a0a0a0","labelOverlap":false,"labelFlush":false,
"tickSize":5,"tickColor":"#999","domainColor":"#999","grid":false,
"title":"PIRC.pl","titleAnchor":"start","titleAlign":"left","titleBaseline":"alphabetic","titleX":-24,"titleY":55,"titleFontSize":11,"titleFontWeight":"normal","titleColor":"#111"}},
"y":{"field":"v","type":"quantitative","scale":{"domain":[0,500]},
"axis":{"values":[0,125,250,375,500],"labelColor":"#a0a0a0","labelFontSize":11,"labelPadding":4,"tickSize":5,"tickColor":"#999","domainColor":"#999","grid":false,"title":null}},
"color":{"datum":"W całej sieci","type":"nominal","scale":{"domain":["W całej sieci","#muzyka-gry"],"range":["#bcd935","#e0622c"]},
"legend":{"title":null,"orient":"none","legendX":760,"legendY":-45,"direction":"vertical","fillColor":"#ffffff","cornerRadius":5,"padding":4,"symbolType":"square","symbolSize":25,"symbolOffset":0,"labelFontSize":15,"labelColor":"#111","labelOffset":4,"rowPadding":4,"symbolStrokeWidth":0,"symbolOpacity":1}}
}},
{"data":{"name":"mg"},
"mark":{"type":"line","strokeWidth":4,"clip":true},
"encoding":{"x":{"field":"t","type":"temporal"},"y":{"field":"v","type":"quantitative"},"color":{"datum":"#muzyka-gry","type":"nominal"}}}
],
"config":{"font":"Liberation Sans","axisX":{"labelOverlap":false},"view":{"stroke":null,"fill":{"gradient":"linear","x1":0,"y1":0,"x2":0,"y2":1,"stops":[{"offset":0,"color":"#ffffff"},{"offset":1,"color":"#e8e8e8"}]}}}
}
